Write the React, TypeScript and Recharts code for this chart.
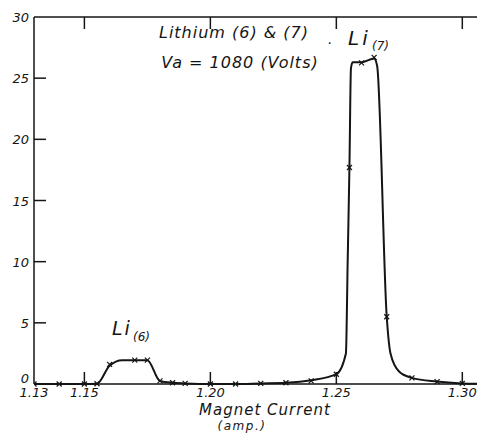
import React from "react";
import { ComposedChart, Line, Scatter, XAxis, YAxis, Customized } from "recharts";

// hand-read trace of the drawn curve (magnet current in amp, ion current)
const curveCurrent = [
  1.13, 1.15, 1.155, 1.16, 1.165, 1.175, 1.18, 1.185, 1.19, 1.2, 1.21, 1.22, 1.23, 1.24, 1.25,
  1.2538, 1.2545, 1.2552, 1.2558, 1.2565, 1.26, 1.265, 1.2662, 1.27, 1.2715, 1.275, 1.28, 1.29,
  1.3, 1.31,
];
const curveCount = [
  0, 0, 0.02, 1.5, 1.95, 1.95, 0.25, 0.1, 0.05, 0, 0, 0.05, 0.1, 0.3, 0.8, 2.5, 10, 17.7, 25.8,
  26.3, 26.3, 26.6, 26, 5.5, 2.5, 1.0, 0.5, 0.2, 0.05, 0,
];

// the "x" marks: measured points
const measuredCurrent = [
  1.13, 1.14, 1.15, 1.155, 1.16, 1.17, 1.175, 1.18, 1.185, 1.19, 1.2, 1.21, 1.22, 1.23, 1.24,
  1.25, 1.2552, 1.26, 1.265, 1.27, 1.28, 1.29, 1.3,
];
const measuredCount = [
  0, 0, 0, 0.02, 1.6, 1.95, 1.95, 0.25, 0.1, 0.05, 0, 0, 0.05, 0.1, 0.25, 0.8, 17.7, 26.25, 26.7,
  5.5, 0.5, 0.2, 0.05,
];

const xTicks = [1.13, 1.15, 1.2, 1.25, 1.3];
const yTicks = [0, 5, 10, 15, 20, 25, 30];
const innerYTicks = [5, 10, 15, 20, 25];
const topTicks = [1.15, 1.2, 1.25, 1.3];

const curveData = curveCurrent.map((x, i) => ({ x, y: curveCount[i] }));
const markData = measuredCurrent.map((x, i) => ({ x, y: measuredCount[i] }));

const INK = "#151515";
const FONT = "'DejaVu Sans', sans-serif";

const BottomTick = (props: any) => {
  const { x, y, payload } = props;
  return (
    <g>
      {payload.value !== 1.13 && <line x1={x} y1={y} x2={x} y2={y - 12} stroke={INK} strokeWidth={1.5} />}
      <text x={x} y={y + 13} textAnchor="middle" fontFamily={FONT} fontStyle="italic" fontSize={13} fill={INK}>
        {payload.value.toFixed(2)}
      </text>
    </g>
  );
};

const TopTick = (props: any) => {
  const { x, y } = props;
  return <line x1={x} y1={y} x2={x} y2={y + 12} stroke={INK} strokeWidth={1.5} />;
};

const LeftTick = (props: any) => {
  const { x, y, payload } = props;
  const v = payload.value;
  return (
    <g>
      {v !== 0 && v !== 30 && <line x1={x} y1={y} x2={x + 12} y2={y} stroke={INK} strokeWidth={1.5} />}
      <text
        x={x - 5}
        y={v === 0 ? y - 1 : y + 5}
        textAnchor="end"
        fontFamily={FONT}
        fontStyle="italic"
        fontSize={13}
        fill={INK}
      >
        {v}
      </text>
    </g>
  );
};

const RightTick = (props: any) => {
  const { x, y } = props;
  return <line x1={x} y1={y} x2={x - 12} y2={y} stroke={INK} strokeWidth={1.5} />;
};

const Cross = (props: any) => {
  const { cx, cy } = props;
  const s = 2.5;
  return (
    <g stroke={INK} strokeWidth={1.2}>
      <line x1={cx - s} y1={cy - s} x2={cx + s} y2={cy + s} />
      <line x1={cx - s} y1={cy + s} x2={cx + s} y2={cy - s} />
    </g>
  );
};

const Notes = () => (
  <g fontFamily={FONT} fontStyle="italic" fill={INK}>
    <text x={234} y={38} textAnchor="middle" fontSize={16} letterSpacing={1}>
      Lithium (6) &amp; (7)
    </text>
    <text x={240} y={68} textAnchor="middle" fontSize={16} letterSpacing={1}>
      Va = 1080 (Volts)
    </text>
    <text x={328} y={44} fontSize={14}>.</text>
    <text x={348} y={45} fontSize={20} letterSpacing={3}>Li</text>
    <text x={372} y={50} fontSize={12}>(7)</text>
    <text x={112} y={335} fontSize={19} letterSpacing={2}>Li</text>
    <text x={133} y={341} fontSize={12}>(6)</text>
    <text x={265} y={415} textAnchor="middle" fontSize={15} letterSpacing={1}>
      Magnet Current
    </text>
    <text x={242} y={430} textAnchor="middle" fontSize={12} letterSpacing={1.5}>
      (amp.)
    </text>
  </g>
);

export default function App() {
  return (
    <div style={{ position: "absolute", left: 0, top: 0, width: 477, height: 433, background: "#fff" }}>
      <ComposedChart width={477} height={433} margin={{ top: 0, left: 0, right: -10, bottom: 0 }}>
        <XAxis
          xAxisId="b"
          dataKey="x"
          type="number"
          domain={[1.13, 1.3098]}
          allowDataOverflow
          ticks={xTicks}
          interval={0}
          height={49}
          tickSize={0}
          tickMargin={0}
          tick={<BottomTick />}
          axisLine={{ stroke: INK, strokeWidth: 1.5 }}
        />
        <XAxis
          xAxisId="t"
          orientation="top"
          dataKey="x"
          type="number"
          domain={[1.13, 1.3098]}
          allowDataOverflow
          ticks={topTicks}
          interval={0}
          height={17}
          tickSize={0}
          tickMargin={0}
          tick={<TopTick />}
          axisLine={{ stroke: INK, strokeWidth: 1.5 }}
        />
        <YAxis
          yAxisId="l"
          dataKey="y"
          type="number"
          domain={[0, 30]}
          ticks={yTicks}
          interval={0}
          width={34}
          tickSize={0}
          tickMargin={0}
          tick={<LeftTick />}
          axisLine={{ stroke: INK, strokeWidth: 1.5 }}
        />
        <YAxis
          yAxisId="r"
          orientation="right"
          type="number"
          domain={[0, 30]}
          ticks={innerYTicks}
          interval={0}
          width={0}
          tickSize={0}
          tickMargin={0}
          tick={<RightTick />}
          axisLine={{ stroke: INK, strokeWidth: 1.5 }}
        />
        <Line
          xAxisId="b"
          yAxisId="l"
          data={curveData}
          dataKey="y"
          type="monotone"
          stroke={INK}
          strokeWidth={2}
          dot={false}
          activeDot={false}
          isAnimationActive={false}
        />
        <Scatter
          xAxisId="b"
          yAxisId="l"
          data={markData}
          dataKey="y"
          shape={<Cross />}
          isAnimationActive={false}
        />
        <Customized component={<Notes />} />
      </ComposedChart>
    </div>
  );
}
